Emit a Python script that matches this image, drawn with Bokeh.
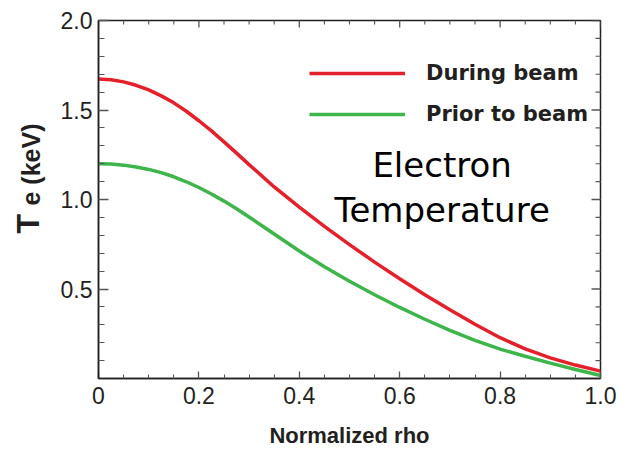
import math

from bokeh.embed import file_html
from bokeh.models import FixedTicker, Label, Legend, LegendItem, Range1d
from bokeh.plotting import figure
from bokeh.resources import INLINE

# Normalized radius grid and electron temperature profiles (keV)
rho = [0.000, 0.025, 0.050, 0.075, 0.100, 0.125, 0.150, 0.175, 0.200,
       0.225, 0.250, 0.275, 0.300, 0.350, 0.400, 0.450, 0.500, 0.550,
       0.600, 0.650, 0.700, 0.750, 0.800, 0.850, 0.900, 0.950, 1.000]
te_during = [1.673, 1.669, 1.657, 1.638, 1.612, 1.579, 1.540, 1.493, 1.440,
             1.383, 1.322, 1.259, 1.195, 1.070, 0.957, 0.850, 0.748, 0.650,
             0.557, 0.468, 0.384, 0.303, 0.228, 0.165, 0.115, 0.075, 0.041]
te_prior = [1.200, 1.198, 1.192, 1.182, 1.168, 1.150, 1.127, 1.099, 1.067,
            1.031, 0.991, 0.948, 0.902, 0.807, 0.712, 0.624, 0.543, 0.468,
            0.397, 0.331, 0.269, 0.213, 0.164, 0.124, 0.086, 0.050, 0.017]

series_labels = ["During beam", "Prior to beam"]
x_ticks = [0.0, 0.2, 0.4, 0.6, 0.8, 1.0]
x_tick_labels = ["0", "0.2", "0.4", "0.6", "0.8", "1.0"]
x_minor_ticks = [0.05, 0.1, 0.15, 0.25, 0.3, 0.35, 0.45, 0.5, 0.55,
                 0.65, 0.7, 0.75, 0.85, 0.9, 0.95]
y_ticks = [0.5, 1.0, 1.5, 2.0]
y_tick_labels = ["0.5", "1.0", "1.5", "2.0"]
y_minor_ticks = [0.1, 0.2, 0.3, 0.4, 0.6, 0.7, 0.8, 0.9, 1.1, 1.2, 1.3,
                 1.4, 1.6, 1.7, 1.8, 1.9]

RED = "#e5202b"
GREEN = "#3db54a"
INK = "#231f20"
TICK_GREY = "#555555"

p = figure(width=628, height=450, output_backend="svg", toolbar_location=None,
           x_range=Range1d(0, 1), y_range=Range1d(0, 2),
           min_border_left=98, min_border_right=26, min_border_top=20,
           min_border_bottom=72)
p.grid.visible = False
p.outline_line_color = INK
p.outline_line_width = 1.5
p.background_fill_color = "white"
p.border_fill_color = "white"


def style_axis(ax, major_in, minor_in):
    ax.axis_line_color = INK
    ax.axis_line_width = 1.5
    ax.major_tick_line_color = TICK_GREY
    ax.minor_tick_line_color = TICK_GREY
    ax.major_tick_line_width = 1.3
    ax.minor_tick_line_width = 1.1
    ax.major_tick_in = major_in
    ax.major_tick_out = 0
    ax.minor_tick_in = minor_in
    ax.minor_tick_out = 0


xa = p.xaxis[0]
xa.ticker = FixedTicker(ticks=x_ticks, minor_ticks=x_minor_ticks)
xa.major_label_overrides = dict(zip(x_ticks, x_tick_labels))
xa.major_label_text_font = "Liberation Sans"
xa.major_label_text_font_size = "23px"
xa.major_label_text_color = INK
xa.major_label_standoff = 8
xa.axis_label = "Normalized rho"
xa.axis_label_text_font = "Liberation Sans"
xa.axis_label_text_font_style = "bold"
xa.axis_label_text_font_size = "22px"
xa.axis_label_text_color = INK
xa.axis_label_standoff = 16
style_axis(xa, 7, 4)

ya = p.yaxis[0]
ya.ticker = FixedTicker(ticks=y_ticks, minor_ticks=y_minor_ticks)
ya.major_label_overrides = dict(zip(y_ticks, y_tick_labels))
ya.major_label_text_font = "Liberation Sans"
ya.major_label_text_font_size = "23px"
ya.major_label_text_color = INK
ya.major_label_standoff = 6
style_axis(ya, 10, 6)

# Mirrored inward ticks along the top and right edges (half of each dash
# falls outside the frame and is clipped away)
p.scatter(x=x_ticks, y=[2.0] * len(x_ticks), marker="dash", size=14,
          angle=math.pi / 2, line_color=TICK_GREY, line_width=1.3)
p.scatter(x=x_minor_ticks, y=[2.0] * len(x_minor_ticks), marker="dash",
          size=8, angle=math.pi / 2, line_color=TICK_GREY, line_width=1.1)
p.scatter(x=[1.0] * len(y_ticks), y=y_ticks, marker="dash", size=18,
          line_color=TICK_GREY, line_width=1.3)
p.scatter(x=[1.0] * len(y_minor_ticks), y=y_minor_ticks, marker="dash",
          size=10, line_color=TICK_GREY, line_width=1.1)

r_during = p.line(rho, te_during, line_color=RED, line_width=3.5)
r_prior = p.line(rho, te_prior, line_color=GREEN, line_width=3.5)

legend = Legend(items=[LegendItem(label=series_labels[0], renderers=[r_during]),
                       LegendItem(label=series_labels[1], renderers=[r_prior])],
                location=(211, 252), padding=0, margin=0, spacing=17,
                glyph_width=96, glyph_height=24, label_height=24,
                label_standoff=21, border_line_color=None,
                background_fill_alpha=0,
                label_text_font="DejaVu Sans", label_text_font_style="bold",
                label_text_font_size="21px", label_text_color=INK)
p.add_layout(legend, "center")

# Annotation text inside the frame
for txt, yv in (("Electron", 1.19), ("Temperature", 0.94)):
    p.add_layout(Label(x=0.6845, y=yv, text=txt, text_align="center",
                       text_baseline="alphabetic", text_font="DejaVu Sans",
                       text_font_size="34px", text_color="black"))

# Vertical axis title "T" with a subscripted "e (keV)"; the second piece
# lives in the right-hand panel so the left margin keeps its width
p.add_layout(Label(x=6, y=145, x_units="screen", y_units="screen",
                   text="T", angle=math.pi / 2, text_align="left",
                   text_baseline="alphabetic", text_font="Liberation Sans",
                   text_font_style="bold", text_font_size="32px",
                   text_color=INK), "left")
p.add_layout(Label(x=-570, y=173, x_units="screen", y_units="screen",
                   text="e (keV)", angle=math.pi / 2, text_align="left",
                   text_baseline="alphabetic", text_font="Liberation Sans",
                   text_font_style="bold", text_font_size="25px",
                   text_color=INK), "right")

open("out.html", "w").write(file_html(p, INLINE))
